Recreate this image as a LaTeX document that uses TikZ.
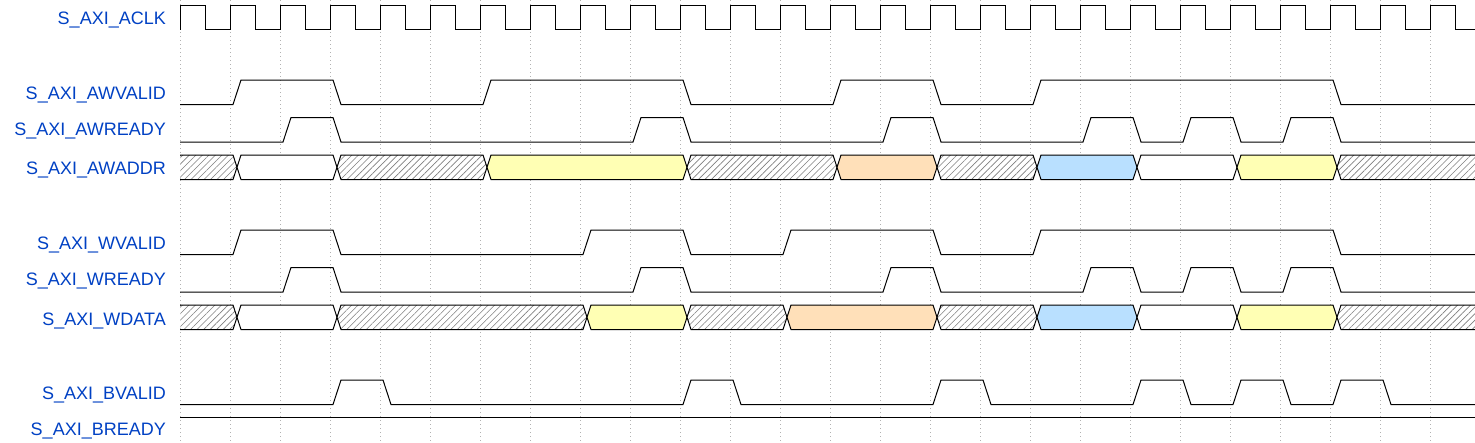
\documentclass[tikz,border=0pt]{standalone}
\usepackage{fontspec}
\setmainfont{Liberation Sans}
\usetikzlibrary{patterns.meta}
\definecolor{lblblue}{HTML}{0041C4}
\definecolor{dyellow}{HTML}{FFFFB4}
\definecolor{dorange}{HTML}{FFE0B9}
\definecolor{dblue}{HTML}{B9E0FF}
\tikzset{
  sigline/.style={draw=black, line width=1pt, line join=miter},
  gridline/.style={draw=black!30, line width=0.8pt, dash pattern=on 1pt off 3pt},
  lbl/.style={anchor=base east, text=lblblue, inner sep=0pt, font=\fontsize{18}{20}\selectfont},
  busx/.style={preaction={fill=white}, pattern={Lines[angle=45,distance=4.6pt,line width=0.6pt]}, pattern color=black!50, draw=black, line width=1pt},
  busw/.style={fill=white, draw=black, line width=1pt},
  busy/.style={fill=dyellow, draw=black, line width=1pt},
  buso/.style={fill=dorange, draw=black, line width=1pt},
  busb/.style={fill=dblue, draw=black, line width=1pt},
}
\newcommand\pulsesig[2]{%
  \draw[sigline] (180,#1+24.5) \foreach \r/\f in {#2} { -- (\r+3,#1+24.5) -- (\r+11,#1) -- (\f+3,#1) -- (\f+11,#1+24.5) } -- (1475,#1+24.5);}
\newcommand\bussig[2]{%
  \begin{scope}
  \clip (180,0) rectangle (1475,442);
  \foreach \a/\b/\s in {#2} {
    \path[style=\s] (\a+7,#1+12.25) -- (\a+11,#1) -- (\b+3,#1) -- (\b+7,#1+12.25) -- (\b+3,#1+24.5) -- (\a+11,#1+24.5) -- cycle;
  }
  \end{scope}}
\begin{document}
\begin{tikzpicture}[x=1pt,y=-1pt]
\useasboundingbox[fill=white] (0,0) rectangle (1475,442);
% grid
\foreach \i in {0,...,25} { \draw[gridline] (180+50*\i,0) -- (180+50*\i,442); }
% labels
\node[lbl] (lclk) at (166,24.3) {S\_AXI\_ACLK};
\node[lbl] (lawv) at (166,99) {S\_AXI\_AWVALID};
\node[lbl] (lawr) at (166,135.7) {S\_AXI\_AWREADY};
\node[lbl] (lawa) at (166,174.3) {S\_AXI\_AWADDR};
\node[lbl] (lwv) at (166,249) {S\_AXI\_WVALID};
\node[lbl] (lwr) at (166,285.7) {S\_AXI\_WREADY};
\node[lbl] (lwd) at (166,325) {S\_AXI\_WDATA};
\node[lbl] (lbv) at (166,399.3) {S\_AXI\_BVALID};
\node[lbl] (lbr) at (166,435.3) {S\_AXI\_BREADY};
% clock
\draw[sigline] (180,29.5) \foreach \i in {0,...,24} { -- ++(0,-24.5) -- ++(25,0) -- ++(0,24.5) -- ++(25,0) } -- ++(0,-24.5) -- ++(25,0) -- ++(0,24.5) -- (1475,29.5);
% single-bit signals
\pulsesig{80}{230/330,480/680,830/930,1030/1330}
\pulsesig{117.5}{280/330,630/680,880/930,1080/1130,1180/1230,1280/1330}
\pulsesig{230}{230/330,580/680,780/930,1030/1330}
\pulsesig{267.5}{280/330,630/680,880/930,1080/1130,1180/1230,1280/1330}
\pulsesig{380}{330/380,680/730,930/980,1130/1180,1230/1280,1330/1380}
\draw[sigline] (180,417.5) -- (1475,417.5);
% buses
\bussig{155}{169/230/busx,230/330/busw,330/480/busx,480/680/busy,680/830/busx,830/930/buso,930/1030/busx,1030/1130/busb,1130/1230/busw,1230/1330/busy,1330/1480/busx}
\bussig{305}{169/230/busx,230/330/busw,330/580/busx,580/680/busy,680/780/busx,780/930/buso,930/1030/busx,1030/1130/busb,1130/1230/busw,1230/1330/busy,1330/1480/busx}
\end{tikzpicture}
\end{document}
